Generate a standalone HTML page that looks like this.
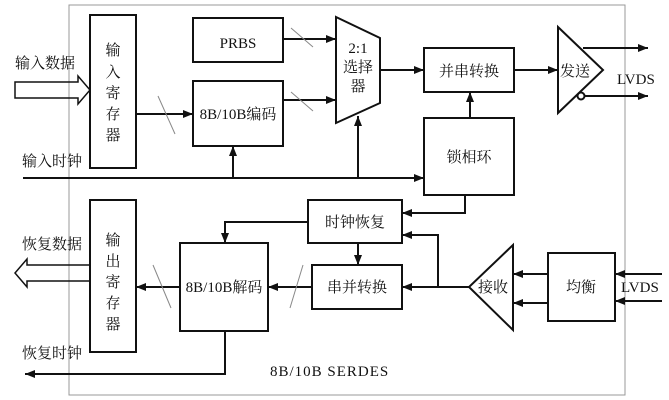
<!DOCTYPE html>
<html><head><meta charset="utf-8"><style>
body{margin:0;background:#fff}
svg{display:block}
text{font-family:"Liberation Serif","Noto Serif CJK SC",serif;font-size:15px;fill:#111}
</style></head><body>
<svg width="669" height="400" viewBox="0 0 669 400" xmlns="http://www.w3.org/2000/svg">
<defs>
<marker id="a" viewBox="0 0 10 10" refX="10" refY="5" markerWidth="10" markerHeight="10" markerUnits="userSpaceOnUse" orient="auto"><path d="M0,1 L10,5 L0,9 Z" fill="#111"/></marker>
</defs>
<rect x="69" y="5" width="556" height="390" fill="none" stroke="#999" stroke-width="1"/>
<g fill="none" stroke="#111" stroke-width="2">
<rect x="90" y="15" width="46" height="153"/>
<rect x="193" y="18" width="90" height="44"/>
<rect x="193" y="81" width="90" height="65"/>
<path d="M336,17 L380,38 L380,103 L336,123 Z"/>
<rect x="424" y="48" width="90" height="44"/>
<rect x="424" y="118" width="90" height="77"/>
<path d="M558,27 L603,70 L558,113 Z"/>
<circle cx="581" cy="96" r="3.5" fill="#fff"/>
<rect x="308" y="200" width="94" height="43"/>
<rect x="312" y="265" width="90" height="44"/>
<path d="M513,245 L469,287 L513,330 Z"/>
<rect x="548" y="253" width="67" height="68"/>
<rect x="180" y="243" width="88" height="88"/>
<rect x="90" y="200" width="46" height="152"/>
<path d="M15,82 L78,82 L78,76 L90,90 L78,104 L78,98 L15,98 Z" stroke-width="1.5"/>
<path d="M90,265 L27,265 L27,259 L15,273 L27,287 L27,281 L90,281" stroke-width="1.5"/>
</g>
<g stroke="#111" stroke-width="2" fill="none" marker-end="url(#a)">
<line x1="23" y1="178" x2="424" y2="178"/>
<line x1="233" y1="178" x2="233" y2="146"/>
<line x1="358" y1="178" x2="358" y2="116"/>
<line x1="136" y1="114" x2="193" y2="114"/>
<line x1="283" y1="39" x2="336" y2="39"/>
<line x1="283" y1="100" x2="336" y2="100"/>
<line x1="380" y1="70" x2="424" y2="70"/>
<line x1="470" y1="118" x2="470" y2="92"/>
<line x1="514" y1="70" x2="558" y2="70"/>
<line x1="583" y1="48" x2="648" y2="48"/>
<line x1="585" y1="96" x2="648" y2="96"/>
<path d="M465,195 L465,213 L402,213"/>
<line x1="358" y1="243" x2="358" y2="265"/>
<path d="M308,222 L225,222 L225,243"/>
<line x1="469" y1="287" x2="402" y2="287"/>
<path d="M438,287 L438,235 L402,235"/>
<line x1="548" y1="274" x2="513" y2="274"/>
<line x1="548" y1="303" x2="513" y2="303"/>
<line x1="662" y1="274" x2="615" y2="274"/>
<line x1="662" y1="301" x2="615" y2="301"/>
<line x1="312" y1="287" x2="268" y2="287"/>
<line x1="180" y1="287" x2="136" y2="287"/>
<path d="M225,331 L225,374 L25,374"/>
</g>
<g stroke="#888" stroke-width="1">
<line x1="158" y1="96" x2="175" y2="134"/>
<line x1="291" y1="28" x2="313" y2="47"/>
<line x1="291" y1="92" x2="313" y2="111"/>
<line x1="153" y1="265" x2="171" y2="308"/>
<line x1="303" y1="265" x2="290" y2="308"/>
</g>
<text x="15" y="68">输入数据</text>
<text x="22" y="166">输入时钟</text>
<text x="22" y="249">恢复数据</text>
<text x="22" y="358">恢复时钟</text>
<text x="113" y="55" text-anchor="middle">输</text>
<text x="113" y="77" text-anchor="middle">入</text>
<text x="113" y="98" text-anchor="middle">寄</text>
<text x="113" y="119" text-anchor="middle">存</text>
<text x="113" y="140" text-anchor="middle">器</text>
<text x="113" y="245" text-anchor="middle">输</text>
<text x="113" y="266" text-anchor="middle">出</text>
<text x="113" y="287" text-anchor="middle">寄</text>
<text x="113" y="308" text-anchor="middle">存</text>
<text x="113" y="329" text-anchor="middle">器</text>
<text x="238" y="48" text-anchor="middle">PRBS</text>
<text x="238" y="119" text-anchor="middle">8B/10B编码</text>
<text x="358" y="53" text-anchor="middle">2:1</text>
<text x="358" y="72" text-anchor="middle">选择</text>
<text x="358" y="91" text-anchor="middle">器</text>
<text x="469" y="76" text-anchor="middle">并串转换</text>
<text x="469" y="162" text-anchor="middle">锁相环</text>
<text x="575" y="76" text-anchor="middle">发送</text>
<text x="617" y="84" font-size="13">LVDS</text>
<text x="355" y="227" text-anchor="middle">时钟恢复</text>
<text x="357" y="292" text-anchor="middle">串并转换</text>
<text x="493" y="292" text-anchor="middle">接收</text>
<text x="581" y="292" text-anchor="middle">均衡</text>
<text x="621" y="292" font-size="13">LVDS</text>
<text x="224" y="292" text-anchor="middle">8B/10B解码</text>
<text x="270" y="376" font-size="16" letter-spacing="1">8B/10B SERDES</text>
</svg>
</body></html>
